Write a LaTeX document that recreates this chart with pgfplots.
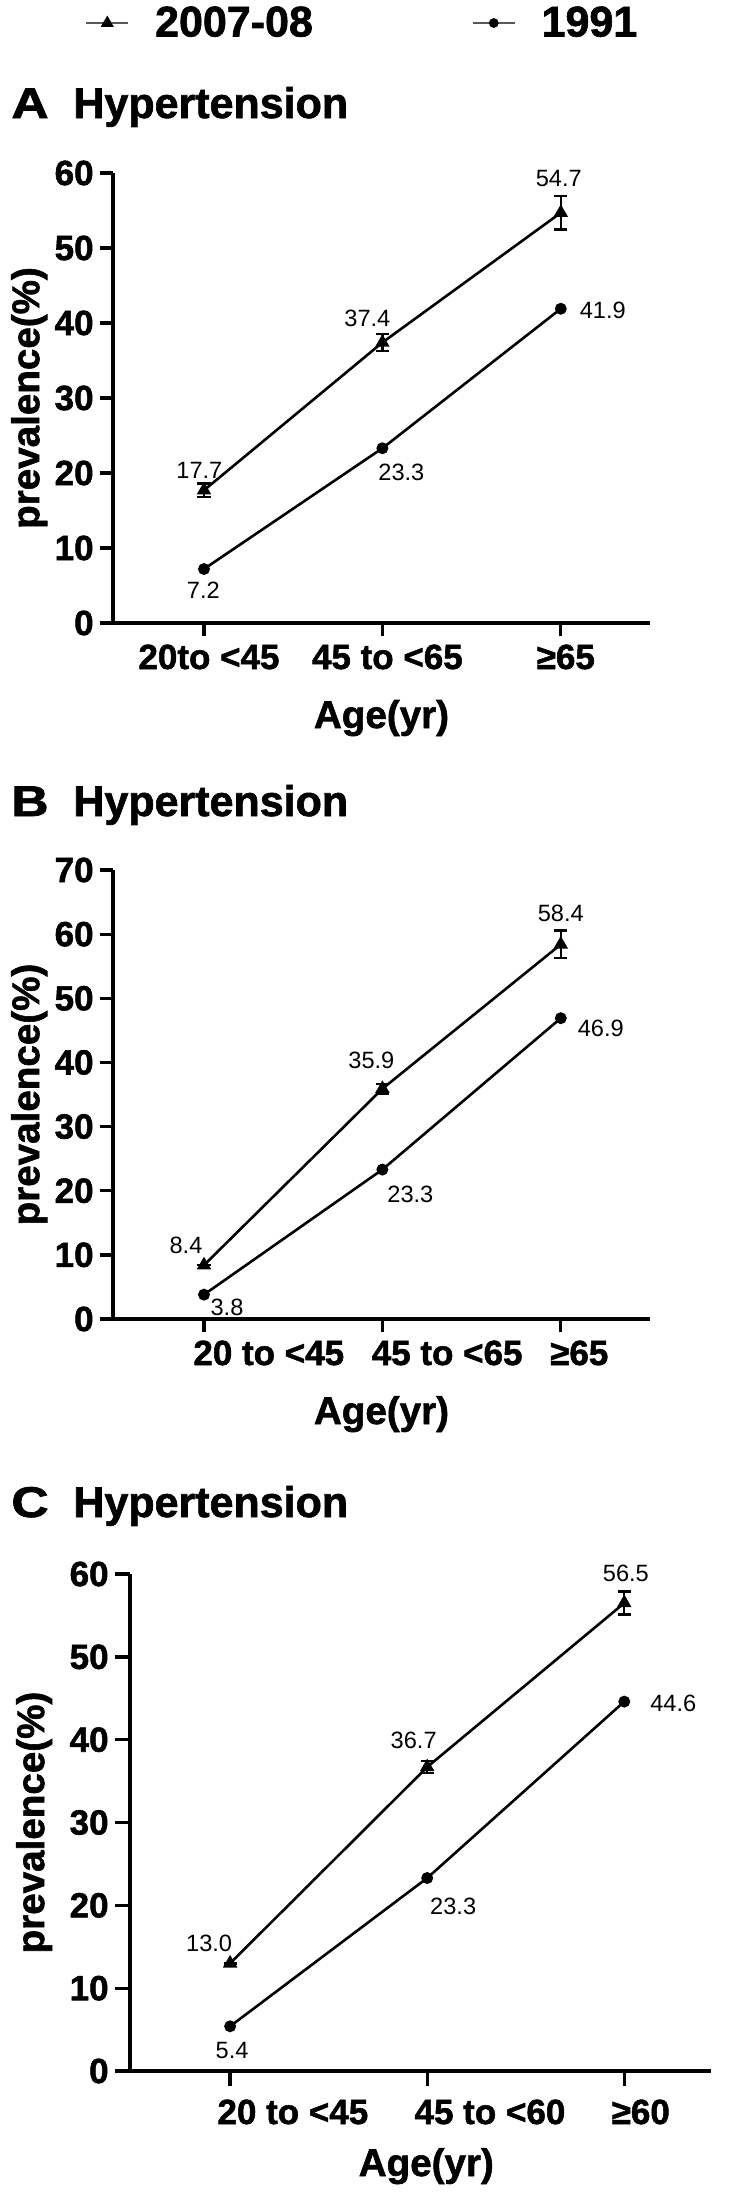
\documentclass[border=0pt]{standalone}
\usepackage{pgfplots}
\pgfplotsset{compat=1.18}
\usepackage{fontspec}
\setmainfont{Liberation Sans}[BoldFeatures={FakeBold=1.5}]
\begin{document}
\begin{tikzpicture}
\path[use as bounding box] (0,0) rectangle (366.5pt,-1101pt);
\pgfplotsset{
  panel/.style={
    scale only axis,
    axis lines=left,
    axis line style={-, line width=1.65pt},
    major tick style={line width=1.65pt, black},
    major tick length=6.5pt,
    tick align=outside,
    xmin=-0.51, xmax=2.5,
    ymin=0,
    xtick={0,1,2},
    /pgf/number format/assume math mode=true,
    yticklabel style={font=\bfseries\fontsize{17.5}{17.5}\selectfont, inner xsep=3pt},
    xticklabel style={font=\bfseries\fontsize{17.5}{17.5}\selectfont, inner sep=0pt, anchor=base, yshift=-16.5pt},
    label style={font=\bfseries\fontsize{19.3}{19.3}\selectfont},
    ylabel={prevalence(\%)},
    xlabel={Age(yr)},
    xlabel style={at={(axis description cs:0.5,0)}, anchor=base, yshift=-52.5pt},
    clip=false,
  },
  s07/.style={black, line width=1.3pt, mark=triangle*, mark size=2.9pt, mark options={solid},
    error bars/y dir=both, error bars/y explicit,
    error bars/error bar style={line width=1.2pt},
    error bars/error mark options={line width=1.2pt, mark size=3.3pt, rotate=90}},
  s91/.style={black, line width=1.3pt, mark=*, mark size=2.3pt},
}
\tikzset{ttl/.style={anchor=base west, inner sep=0pt, font=\bfseries\fontsize{21.5}{21.5}\selectfont},
  dl/.style={font=\fontsize{11.8}{11.8}\selectfont, inner sep=0pt}}

% ---------------- Panel A ----------------
\node[ttl] at (5.5pt,-59pt) {\scalebox{1.2}[1]{A}};
\node[ttl] at (36.5pt,-59pt) {Hypertension};
\begin{axis}[panel, at={(56.5pt,-311.5pt)}, anchor=south west,
  width=268.5pt, height=225pt, ymax=60, ytick={0,10,...,60},
  xticklabels={20to <45, 45 to <65, ≥65},
  xticklabel style={xshift=2.5pt},
  ylabel style={at={(axis description cs:-0.156,0.5)}, anchor=center},
  legend columns=2,
  legend style={at={(axis description cs:-0.0521,1.3333)}, anchor=west, draw=none, fill=none,
    inner sep=0pt, font=\bfseries\fontsize{21.5}{21.5}\selectfont,
    nodes={inner sep=0pt},
    /tikz/every odd column/.append style={column sep=13pt},
    /tikz/every even column/.append style={column sep=79.5pt}},
  legend image code/.code={\draw[#1] (0pt,0pt) -- (21pt,0pt);
    \draw[mark repeat=2, mark phase=2, #1] plot coordinates {(0pt,0pt) (10.5pt,0pt) (21pt,0pt)};},
]
\addplot[s07, forget plot] coordinates {(0,17.7) +- (0,0.9) (1,37.4) +- (0,1.15) (2,54.7) +- (0,2.25)};
\addplot[s91, forget plot] coordinates {(0,7.2) (1,23.3) (2,41.9)};
\addlegendimage{black!65, line width=0.85pt, mark=triangle*, mark size=2.9pt, mark options={black}}
\addlegendentry{2007-08}
\addlegendimage{black!65, line width=0.85pt, mark=*, mark size=2pt, mark options={black}}
\addlegendentry{1991}
\node[dl, xshift=-2.3pt, yshift=10pt] at (axis cs:0,17.7) {17.7};
\node[dl, xshift=-7.5pt, yshift=12pt] at (axis cs:1,37.4) {37.4};
\node[dl, xshift=-1pt, yshift=17pt] at (axis cs:2,54.7) {54.7};
\node[dl, xshift=-0.3pt, yshift=-10.5pt] at (axis cs:0,7.2) {7.2};
\node[dl, xshift=9.5pt, yshift=-12pt] at (axis cs:1,23.3) {23.3};
\node[dl, xshift=21pt, yshift=-1pt] at (axis cs:2,41.9) {41.9};
\end{axis}

% ---------------- Panel B ----------------
\node[ttl] at (5.5pt,-408pt) {\scalebox{1.2}[1]{B}};
\node[ttl] at (36.5pt,-408pt) {Hypertension};
\begin{axis}[panel, at={(56.5pt,-659.5pt)}, anchor=south west,
  width=268.5pt, height=224.5pt, ymax=70, ytick={0,10,...,70},
  xticklabels={20 to <45, 45 to <65, ≥65},
  xticklabel style={anchor=base west, xshift=-5.5pt},
  ylabel style={at={(axis description cs:-0.156,0.5)}, anchor=center},
]
\addplot[s07] coordinates {(0,8.4) +- (0,0) (1,35.9) +- (0,0.75) (2,58.4) +- (0,2.15)};
\addplot[s91] coordinates {(0,3.8) (1,23.3) (2,46.9)};
\node[dl, xshift=-9pt, yshift=10pt] at (axis cs:0,8.4) {8.4};
\node[dl, xshift=-5.5pt, yshift=14pt] at (axis cs:1,35.9) {35.9};
\node[dl, xshift=0pt, yshift=15.5pt] at (axis cs:2,58.4) {58.4};
\node[dl, xshift=11.5pt, yshift=-6.5pt] at (axis cs:0,3.8) {3.8};
\node[dl, xshift=14pt, yshift=-12.5pt] at (axis cs:1,23.3) {23.3};
\node[dl, xshift=20pt, yshift=-5pt] at (axis cs:2,46.9) {46.9};
\end{axis}

% ---------------- Panel C ----------------
\node[ttl] at (5.5pt,-758.5pt) {\scalebox{1.2}[1]{C}};
\node[ttl] at (36.5pt,-758.5pt) {Hypertension};
\begin{axis}[panel, at={(65pt,-1035.5pt)}, anchor=south west,
  width=290.5pt, height=248.5pt, ymax=60, ytick={0,10,...,60}, xmin=-0.508, xmax=2.44,
  major tick length=7.5pt,
  xticklabels={20 to <45, 45 to <60, ≥60},
  xticklabel style={anchor=base west, xshift=-6.5pt, yshift=-2.5pt},
  ylabel style={at={(axis description cs:-0.165,0.5)}, anchor=center},
  xlabel style={at={(axis description cs:0.51,0)}},
]
\addplot[s07] coordinates {(0,13.0) +- (0,0) (1,36.7) +- (0,0.7) (2,56.5) +- (0,1.4)};
\addplot[s91] coordinates {(0,5.4) (1,23.3) (2,44.6)};
\node[dl, xshift=-10.5pt, yshift=10pt] at (axis cs:0,13.0) {13.0};
\node[dl, xshift=-6.75pt, yshift=13.5pt] at (axis cs:1,36.7) {36.7};
\node[dl, xshift=0.8pt, yshift=15pt] at (axis cs:2,56.5) {56.5};
\node[dl, xshift=1pt, yshift=-12pt] at (axis cs:0,5.4) {5.4};
\node[dl, xshift=13pt, yshift=-14pt] at (axis cs:1,23.3) {23.3};
\node[dl, xshift=24.5pt, yshift=-1pt] at (axis cs:2,44.6) {44.6};
\end{axis}
\end{tikzpicture}
\end{document}
